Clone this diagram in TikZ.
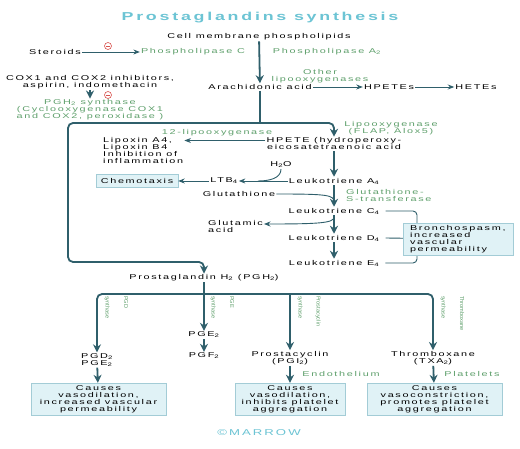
\documentclass[tikz,border=0pt]{standalone}
\usepackage{fontspec}
\setmainfont{Liberation Sans}[FakeStretch=1.55,LetterSpace=24]
\newfontfamily\rotfont{Liberation Sans}
\usetikzlibrary{arrows.meta,calc,positioning}
\definecolor{flow}{HTML}{2F5F6B}
\definecolor{enz}{HTML}{5FA06C}
\definecolor{head}{HTML}{6CC4D4}
\definecolor{effill}{HTML}{E0F2F6}
\definecolor{efline}{HTML}{A3CCD6}
\definecolor{stop}{HTML}{D9534F}

\begin{document}
\begin{tikzpicture}[x=1pt, y=-1pt, >=Stealth,
  every node/.style={inner sep=1pt, align=center, font=\fontsize{7}{7}\selectfont},
  enzyme/.style={text=enz},
  effect/.style={draw=efline, fill=effill, minimum height=32pt, inner sep=2pt},
  mainarr/.style={->, draw=flow, line width=1.8pt, >={Stealth[length=8pt,width=8pt]}},
  thinarr/.style={->, draw=flow, line width=0.9pt, >={Stealth[length=6.5pt,width=5pt]}},
  link/.style={draw=flow, line width=0.9pt},
  synth/.style={text=enz, rotate=-90, anchor=west, inner sep=0pt, font=\rotfont\fontsize{5.6}{5.6}\selectfont},
  inhib/.style={circle, draw=stop, line width=0.6pt, minimum size=7pt, inner sep=0pt}]
  \fill[white] (0,0) rectangle (520,449);
  \useasboundingbox (0,0) rectangle (520,449);

  \node[font=\bfseries\fontsize{11.5}{12}\selectfont, text=head] (title) at (260,18) {Prostaglandins synthesis};
  \node (cell) at (259,37) {Cell membrane phospholipids};
  \node (ster) at (55,52) {Steroids};
  \node[enzyme] (plc) at (193,52) {Phospholipase C};
  \node[enzyme] (pla) at (327,52) {Phospholipase A\textsubscript{2}};
  \node[inhib] (stopa) at (108,46) {};
  \draw[stop, line width=0.6pt] ([xshift=-2pt]stopa.center) -- ([xshift=2pt]stopa.center);
  \node (cox) at (90,82) {COX1 and COX2 inhibitors,\\aspirin, indomethacin};
  \node[enzyme] (pghs) at (90,110) {PGH\textsubscript{2} synthase\\(Cyclooxygenase COX1\\and COX2, peroxidase )};
  \node[inhib] (stopb) at (108,95) {};
  \draw[stop, line width=0.6pt] ([xshift=-2pt]stopb.center) -- ([xshift=2pt]stopb.center);
  \node (arach) at (260,87) {Arachidonic acid};
  \node[enzyme] (olox) at (320,76) {Other\\lipooxygenases};
  \node (hpetes) at (389,87) {HPETEs};
  \node (hetes) at (476,87) {HETEs};
  \draw[mainarr] (cell) -- (arach);
  \draw[thinarr] (ster) -- (plc);
  \draw[mainarr] (cox) -- (pghs);
  \draw[thinarr] (arach) -- (hpetes);
  \draw[thinarr] (hpetes) -- (hetes);

  \node[enzyme] (lox) at (391,128) {Lipooxygenase\\(FLAP, Alox5)};
  \node (hpete) at (334,144) {HPETE (hydroperoxy-\\eicosatetraenoic acid};
  \node[align=left, anchor=north west] (lipox) at (102,136) {Lipoxin A4,\\Lipoxin B4\\Inhibition of\\inflammation};
  \node[enzyme] (twelve) at (217,133) {12-lipooxygenase};
  \node (pgh) at (204,278) {Prostaglandin H\textsubscript{2} (PGH\textsubscript{2})};
  \coordinate (split) at (260,123);
  \draw[mainarr, -] (arach) -- (split);
  \draw[mainarr, rounded corners=5pt] (split) -| (hpete);
  \draw[mainarr, rounded corners=5pt] (split) -| (68,262) -| (pgh);
  \draw[thinarr] ([yshift=3.5pt]hpete.west) -- ([yshift=3.5pt]hpete.west -| lipox.east);

  \node (la4) at (334,181) {Leukotriene A\textsubscript{4}};
  \node (h2o) at (281,165) {H\textsubscript{2}O};
  \node (ltb) at (224,181) {LTB\textsubscript{4}};
  \node[effect, minimum height=13pt, minimum width=82pt] (chemo) at (137,181) {Chemotaxis};
  \coordinate (wjoin) at (258,181);
  \draw[mainarr] (hpete) -- (la4);
  \draw[thinarr] (la4) -- (ltb);
  \draw[thinarr] (ltb) -- (chemo);
  \draw[link] (h2o.south) .. controls (281,178) and (270,181) .. (wjoin);

  \node (glut) at (239,194) {Glutathione};
  \node (lc4) at (334,211) {Leukotriene C\textsubscript{4}};
  \node[enzyme, align=left, anchor=west] (gst) at (345,195) {Glutathione-\\S-transferase};
  \node[align=left, anchor=west] (glua) at (207,226) {Glutamic\\acid};
  \node (ld4) at (334,238) {Leukotriene D\textsubscript{4}};
  \node (le4) at (334,263) {Leukotriene E\textsubscript{4}};
  \coordinate (gjoin) at (334,202);
  \coordinate (asplit) at (334,217);
  \draw[mainarr] (la4) -- (lc4);
  \draw[link] (glut.east) .. controls (328,194) and (334,195) .. (gjoin);
  \draw[thinarr] (asplit) .. controls (334,223) and (320,224) .. ([yshift=2pt]glua.east);
  \draw[mainarr] (lc4) -- (ld4);
  \draw[mainarr] (ld4) -- (le4);
  \draw[link, rounded corners=4pt] ([xshift=5pt]lc4.east) -- (417,211) -- (417,263) -- ([xshift=5pt]le4.east);
  \node[effect, minimum width=110pt, text width=96pt, align=left] (bron) at (458,239) {Bronchospasm,\\increased\\vascular\\permeability};
  \draw[link] ([xshift=5pt]ld4.east) -- (bron);

  \coordinate (branch) at (204,294);
  \node (pge) at (204,335) {PGE\textsubscript{2}};
  \node (pgf) at (204,356) {PGF\textsubscript{2}};
  \node (pgd) at (97,360) {PGD\textsubscript{2}\\PGE\textsubscript{2}};
  \node (pgi) at (290,358) {Prostacyclin\\(PGI\textsubscript{2})};
  \node (txa) at (433,358) {Thromboxane\\(TXA\textsubscript{2})};
  \draw[mainarr] (pgh) -- (pge);
  \draw[mainarr] (pge) -- (pgf);
  \draw[mainarr, rounded corners=5pt] (branch) -| (pgd);
  \draw[mainarr, rounded corners=5pt] (branch) -| (txa);
  \draw[mainarr] (branch -| pgi) -- (pgi);
  \node[synth] (pgdsyn) at (107,296) {synthase};
  \node[synth] (pgdname) at (126,296) {PGD};
  \node[synth] (pgesyn) at (213,296) {synthase};
  \node[synth] (pgename) at (232,296) {PGE};
  \node[synth] (pgisyn) at (300,296) {synthase};
  \node[synth] (pginame) at (318,296) {Prostacyclin};
  \node[synth] (txasyn) at (443,296) {synthase};
  \node[synth] (txaname) at (462,296) {Thromboxane};

  \node[enzyme] (endo) at (341,374) {Endothelium};
  \node[enzyme] (plat) at (472,374) {Platelets};
  \node[effect, minimum width=135pt] (eff1) at (98.5,399) {Causes\\vasodilation,\\increased vascular\\permeability};
  \node[effect, minimum width=110pt] (eff2) at (290,399) {Causes\\vasodilation,\\inhibits platelet\\aggregation};
  \node[effect, minimum width=135pt] (eff3) at (434.5,399) {Causes\\vasoconstriction,\\promotes platelet\\aggregation};
  \draw[mainarr] (pgd) -- (eff1);
  \draw[mainarr] (pgi) -- (eff2);
  \draw[mainarr] (txa) -- (eff3);
  \node[text=head, font=\fontsize{8.5}{9}\selectfont] (marrow) at (259,433) {\textcopyright MARROW};
\end{tikzpicture}
\end{document}
